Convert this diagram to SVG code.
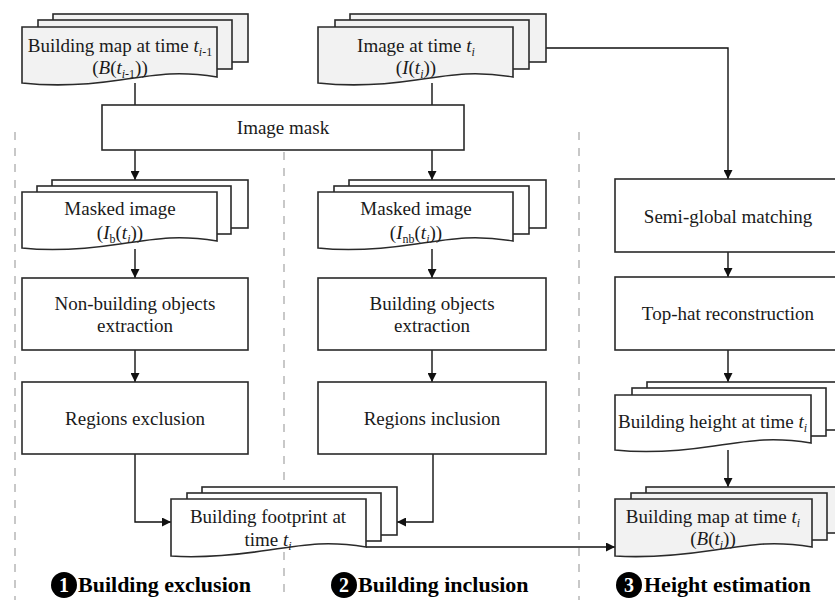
<svg xmlns="http://www.w3.org/2000/svg" width="835" height="600" viewBox="0 0 835 600">
<defs>
<marker id="arr" viewBox="0 0 10 10" refX="10" refY="5" markerWidth="9" markerHeight="9" markerUnits="userSpaceOnUse" orient="auto">
<path d="M0,0 L10,5 L0,10 Z" fill="#111"/>
</marker>
<style>
.box{fill:#fff;stroke:#2a2a2a;stroke-width:1.6}
.gbox{fill:#f2f2f2;stroke:#2a2a2a;stroke-width:1.6}
text{font-family:'Liberation Serif','Tinos','DejaVu Serif',serif}
.t{font-size:19px;fill:#1a1a1a;text-anchor:middle}
.tl{font-size:19px;fill:#1a1a1a}
.it{font-style:italic}
.sub{font-size:12px}
.lab{font-size:22px;font-weight:bold;fill:#000}
.num{font-size:20px;font-weight:bold;fill:#fff;text-anchor:middle}
.dash{stroke:#c8c8c8;stroke-width:2;stroke-dasharray:8 8;fill:none}
.con{stroke:#111;stroke-width:1.4;fill:none}
</style>
</defs>
<rect width="835" height="600" fill="#fff"/>

<g id="dividers">
<line class="dash" x1="15" y1="132" x2="15" y2="600"/>
<line class="dash" x1="284" y1="152" x2="284" y2="600"/>
<line class="dash" x1="579" y1="132" x2="579" y2="600"/>
</g>

<g id="connectors">
<line class="con" x1="135" y1="83" x2="135" y2="105"/>
<line class="con" x1="432" y1="83" x2="432" y2="105"/>
<polyline class="con" points="546,48 728,48 728,179" marker-end="url(#arr)"/>
<line class="con" x1="135" y1="150" x2="135" y2="180" marker-end="url(#arr)"/>
<line class="con" x1="432" y1="150" x2="432" y2="180" marker-end="url(#arr)"/>
<line class="con" x1="135" y1="249" x2="135" y2="278" marker-end="url(#arr)"/>
<line class="con" x1="432" y1="249" x2="432" y2="278" marker-end="url(#arr)"/>
<line class="con" x1="135" y1="350" x2="135" y2="382" marker-end="url(#arr)"/>
<line class="con" x1="432" y1="350" x2="432" y2="382" marker-end="url(#arr)"/>
<line class="con" x1="728" y1="252" x2="728" y2="277" marker-end="url(#arr)"/>
<line class="con" x1="728" y1="350" x2="728" y2="382" marker-end="url(#arr)"/>
<line class="con" x1="728" y1="450" x2="728" y2="487" marker-end="url(#arr)"/>
<polyline class="con" points="135,454 135,522 171,522" marker-end="url(#arr)"/>
<polyline class="con" points="433,454 433,522 397,522" marker-end="url(#arr)"/>
<line class="con" x1="366" y1="547" x2="615" y2="547" marker-end="url(#arr)"/>
</g>

<g id="building-map-prev">
<rect class="gbox" x="53" y="14" width="195" height="48"/>
<rect class="gbox" x="38" y="20" width="194" height="49"/>
<path class="gbox" d="M22,27 H217 V77 C180,71 160,74 120,80 C80,86 50,86 22,83 Z"/>
<text class="t" x="120" y="52">Building map at time <tspan class="it">t</tspan><tspan class="sub" dy="4"><tspan class="it">i</tspan>-1</tspan></text>
<text class="t" x="120" y="74">(<tspan class="it">B</tspan>(<tspan class="it">t</tspan><tspan class="sub" dy="4"><tspan class="it">i</tspan>-1</tspan><tspan dy="-4">))</tspan></text>
</g>

<g id="image-ti">
<rect class="gbox" x="350" y="14" width="196" height="48"/>
<rect class="gbox" x="335" y="20" width="194" height="49"/>
<path class="gbox" d="M318,27 H513 V77 C476,71 456,74 416,80 C376,86 346,86 318,83 Z"/>
<text class="t" x="416" y="52">Image at time <tspan class="it">t</tspan><tspan class="sub it" dy="4">i</tspan></text>
<text class="t" x="416" y="74">(<tspan class="it">I</tspan>(<tspan class="it">t</tspan><tspan class="sub it" dy="4">i</tspan><tspan dy="-4">))</tspan></text>
</g>

<g id="image-mask">
<rect class="box" x="102" y="105" width="362" height="45"/>
<text class="t" x="283" y="134">Image mask</text>
</g>

<g id="masked-image-b">
<rect class="box" x="52" y="180" width="196" height="48"/>
<rect class="box" x="37" y="186" width="194" height="48"/>
<path class="box" d="M22,192 H217 V241 C180,235 160,238 120,244 C80,250 50,251 22,248 Z"/>
<text class="t" x="120" y="215">Masked image</text>
<text class="t" x="120" y="239">(<tspan class="it">I</tspan><tspan class="sub" dy="4">b</tspan><tspan dy="-4">(</tspan><tspan class="it">t</tspan><tspan class="sub it" dy="4">i</tspan><tspan dy="-4">))</tspan></text>
</g>

<g id="masked-image-nb">
<rect class="box" x="349" y="180" width="197" height="48"/>
<rect class="box" x="334" y="186" width="195" height="48"/>
<path class="box" d="M318,192 H513 V241 C476,235 456,238 416,244 C376,250 346,251 318,248 Z"/>
<text class="t" x="416" y="215">Masked image</text>
<text class="t" x="416" y="239">(<tspan class="it">I</tspan><tspan class="sub" dy="4">nb</tspan><tspan dy="-4">(</tspan><tspan class="it">t</tspan><tspan class="sub it" dy="4">i</tspan><tspan dy="-4">))</tspan></text>
</g>

<g id="non-building-extraction">
<rect class="box" x="22" y="278" width="226" height="72"/>
<text class="t" x="135" y="310">Non-building objects</text>
<text class="t" x="135" y="332">extraction</text>
</g>

<g id="building-extraction">
<rect class="box" x="318" y="278" width="228" height="72"/>
<text class="t" x="432" y="310">Building objects</text>
<text class="t" x="432" y="332">extraction</text>
</g>

<g id="regions-exclusion">
<rect class="box" x="22" y="382" width="226" height="72"/>
<text class="t" x="135" y="425">Regions exclusion</text>
</g>

<g id="regions-inclusion">
<rect class="box" x="318" y="382" width="228" height="72"/>
<text class="t" x="432" y="425">Regions inclusion</text>
</g>

<g id="semi-global-matching">
<rect class="box" x="615" y="179" width="240" height="73"/>
<text class="t" x="728" y="223">Semi-global matching</text>
</g>

<g id="top-hat">
<rect class="box" x="615" y="277" width="240" height="73"/>
<text class="t" x="728" y="320">Top-hat reconstruction</text>
</g>

<g id="building-height">
<rect class="box" x="647" y="382" width="200" height="48"/>
<rect class="box" x="632" y="388" width="194" height="48"/>
<path class="box" d="M615,395 H811 V443 C774,437 754,440 714,446 C674,452 644,453 615,450 Z"/>
<text class="tl" x="618" y="428">Building height at time <tspan class="it">t</tspan><tspan class="sub it" dy="4">i</tspan></text>
</g>

<g id="building-footprint">
<rect class="box" x="202" y="487" width="195" height="48"/>
<rect class="box" x="187" y="493" width="194" height="48"/>
<path class="box" d="M171,499 H366 V547 C329,541 309,544 269,550 C229,556 199,558 171,556 Z"/>
<text class="t" x="268" y="523">Building footprint at</text>
<text class="t" x="268" y="546">time <tspan class="it">t</tspan><tspan class="sub it" dy="4">i</tspan></text>
</g>

<g id="building-map-ti">
<rect class="gbox" x="646" y="487" width="200" height="46"/>
<rect class="gbox" x="631" y="493" width="196" height="47"/>
<path class="gbox" d="M615,499 H812 V547 C775,541 755,544 715,550 C675,556 645,558 615,556 Z"/>
<text class="t" x="713" y="523">Building map at time <tspan class="it">t</tspan><tspan class="sub it" dy="4">i</tspan></text>
<text class="t" x="713" y="545">(<tspan class="it">B</tspan>(<tspan class="it">t</tspan><tspan class="sub it" dy="4">i</tspan><tspan dy="-4">))</tspan></text>
</g>

<g id="label-1">
<circle cx="64" cy="585" r="13" fill="#000"/>
<text class="num" x="64" y="592">1</text>
<text class="lab" x="78" y="592">Building exclusion</text>
</g>
<g id="label-2">
<circle cx="344" cy="585" r="13" fill="#000"/>
<text class="num" x="344" y="592">2</text>
<text class="lab" x="358" y="592">Building inclusion</text>
</g>
<g id="label-3">
<circle cx="629" cy="585" r="13" fill="#000"/>
<text class="num" x="629" y="592">3</text>
<text class="lab" x="644" y="592">Height estimation</text>
</g>
</svg>
